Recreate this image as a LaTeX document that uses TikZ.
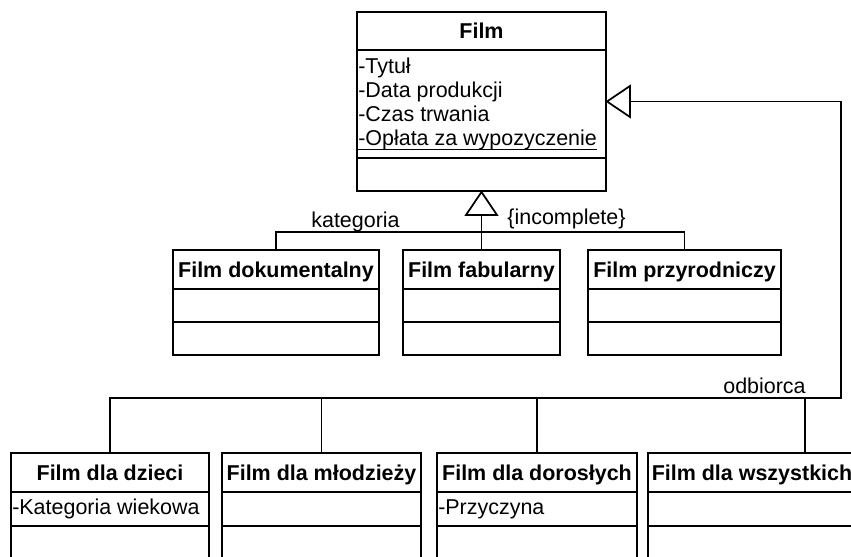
\documentclass[tikz,border=0pt]{standalone}
\usepackage{fontspec}
\setmainfont{Liberation Sans}
\usetikzlibrary{fit}

% underlined attribute (static member) with a slightly heavier rule
\newlength\ulwidth
\newcommand{\ultext}[1]{\settowidth{\ulwidth}{#1}\rlap{\rule[-4pt]{\ulwidth}{0.9pt}}#1}

\tikzset{
  classbox/.style={draw, line width=1.5pt, inner sep=0pt, rectangle},
  sepline/.style={line width=1.5pt},
  conn/.style={line width=0.8pt},
  gentri/.style={draw, fill=white, line width=1.3pt, line join=miter},
  ctitle/.style={inner sep=0pt, font=\fontsize{16.1pt}{19pt}\selectfont\bfseries, anchor=base},
  cattr/.style={inner sep=0pt, font=\fontsize{16.1pt}{19pt}\selectfont, anchor=base west},
  clabel/.style={inner sep=0pt, font=\fontsize{16.1pt}{19pt}\selectfont, anchor=base},
}

\begin{document}
\begin{tikzpicture}[x=0.75pt, y=-0.75pt]
\path[use as bounding box, clip] (0,0) rectangle (851,557);
\fill[white] (0,0) rectangle (851,557);

% ---------- base class ----------
\node[classbox, fit={(357,12) (606,191)}] (film) {};
\draw[sepline] (film.west |- 0,50) -- (film.east |- 0,50);
\draw[sepline] (film.west |- 0,158) -- (film.east |- 0,158);
\node[ctitle] (filmT) at (film.north |- 0,38.5) {Film};
\node[cattr] (filmA1) at (358,73) {-Tytuł};
\node[cattr] (filmA2) at (358,97) {-Data produkcji};
\node[cattr] (filmA3) at (358,121) {-Czas trwania};
\node[cattr] (filmA4) at (358,145) {\ultext{-Opłata za wypozyczenie}};

% ---------- subclasses by category ----------
\node[classbox, fit={(173,250) (379,355)}] (dok) {};
\node[classbox, fit={(403,250) (560,355)}] (fab) {};
\node[classbox, fit={(588,250) (781,355)}] (przy) {};
\foreach \c in {dok,fab,przy}{
  \draw[sepline] (\c.west |- 0,289) -- (\c.east |- 0,289);
  \draw[sepline] (\c.west |- 0,322) -- (\c.east |- 0,322);
}
\node[ctitle] (dokT) at (dok.north |- 0,277) {Film dokumentalny};
\node[ctitle] (fabT) at (fab.north |- 0,277) {Film fabularny};
\node[ctitle] (przyT) at (przy.north |- 0,277) {Film przyrodniczy};

% ---------- subclasses by audience ----------
\node[classbox, fit={(11,453) (209,561)}] (dz) {};
\node[classbox, fit={(222,453) (421,561)}] (ml) {};
\node[classbox, fit={(437,453) (637,561)}] (dor) {};
\node[classbox, fit={(648,453) (856,561)}] (wsz) {};
\foreach \c in {dz,ml,dor,wsz}{
  \draw[sepline] (\c.west |- 0,492) -- (\c.east |- 0,492);
  \draw[sepline] (\c.west |- 0,526) -- (\c.east |- 0,526);
}
\node[ctitle] (dzT) at (dz.north |- 0,480) {Film dla dzieci};
\node[ctitle] (mlT) at (ml.north |- 0,480) {Film dla młodzieży};
\node[ctitle] (dorT) at (dor.north |- 0,480) {Film dla dorosłych};
\node[ctitle] (wszT) at (wsz.north |- 0,480) {Film dla wszystkich};
\node[cattr] (dzA1) at (12,514) {-Kategoria wiekowa};
\node[cattr] (dorA1) at (438,514) {-Przyczyna};

% ---------- generalization: kategoria ----------
\coordinate (g1) at (481.5,215);
\draw[conn] (g1) -- (fab.north);
\draw[conn] (dok.north) -- ++(0,-17) -| (przy.north);
\draw[gentri] (film.south) -- (466,215) -- (497,215) -- cycle;
\node[clabel] (lblKat) at (355.5,227) {kategoria};
\node[clabel] (lblInc) at (566.5,224) {\{incomplete\}};

% ---------- generalization: odbiorca ----------
\coordinate (g2) at (630,101.5);
\coordinate (odb) at (841,398);
\coordinate (wszIn) at (805,453);
\draw[conn] (g2) -| (odb) -- (dz.north |- odb) -- (dz.north);
\draw[conn] (ml.north) -- (ml.north |- odb);
\draw[conn] (dor.north) -- (dor.north |- odb);
\draw[conn] (wszIn) -- (wszIn |- odb);
\draw[gentri] (film.east) -- (630,86) -- (630,117) -- cycle;
\node[clabel] (lblOdb) at (764.5,393) {odbiorca};
\end{tikzpicture}
\end{document}
